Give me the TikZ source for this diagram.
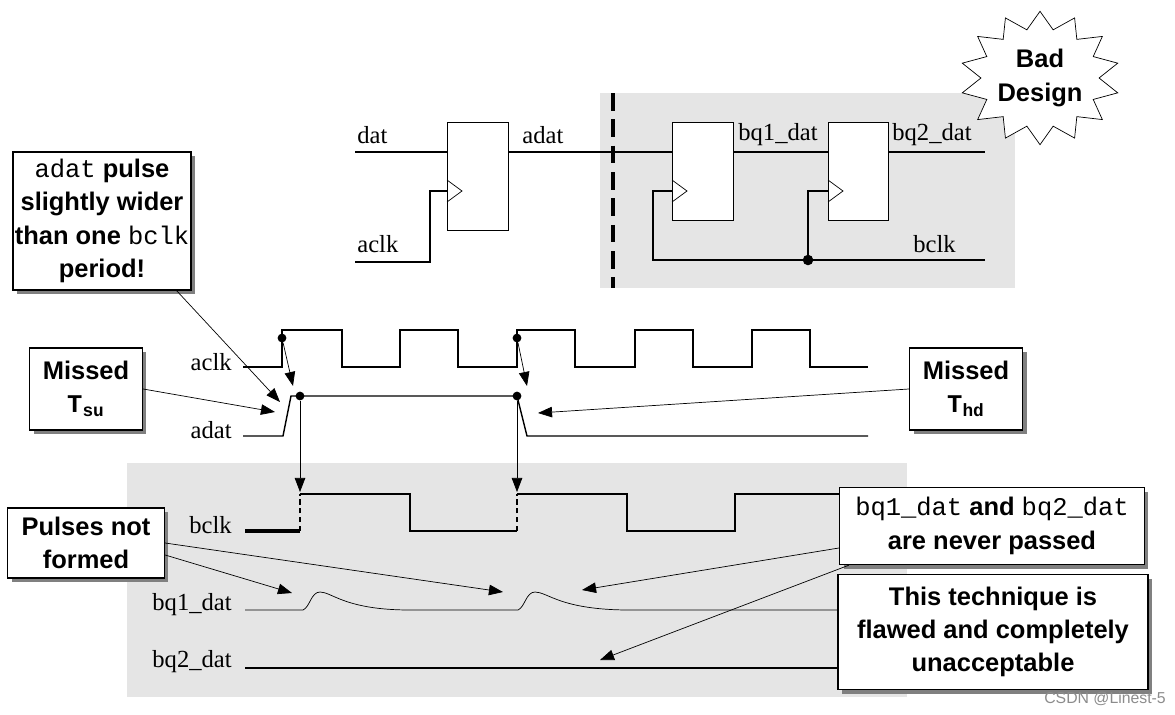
\documentclass[tikz,border=0pt]{standalone}
\usepackage{fontspec}
\setmainfont{Liberation Serif}
\setmonofont{Liberation Mono}
\newfontfamily\hv{Liberation Sans}
\usetikzlibrary{shapes.geometric, shadows, arrows.meta}
\tikzset{
	callout/.style={
		draw,
		thick,
		fill=white,
		drop shadow={opacity=1, shadow xshift=0.08cm, shadow yshift=-0.08cm},
		font=\hv\bfseries\fontsize{14.5}{19}\selectfont,
		align=center,
		inner sep=1pt
	},
	sig/.style={font=\fontsize{14}{16}\selectfont, inner sep=0pt},
	ff/.style={draw, fill=white, thin},
	wave/.style={thick, line join=miter},
	dot/.style={circle, fill, inner sep=0pt, minimum size=5pt},
	pointer/.style={-{Triangle[length=8pt, width=6pt]}, thin}
}
\begin{document}
\begin{tikzpicture}[x=0.02cm, y=-0.02cm]
	\useasboundingbox (0,0) rectangle (1175,714);
	% shaded regions
	\fill[black!10] (600,93) rectangle (1015,288);
	\fill[black!10] (127,463) rectangle (907,697);
	\draw[line width=2pt, dash pattern=on 10pt off 5pt] (613,93) -- (613,288);

	% bad design star
	\node[star, star points=14, star point ratio=1.35, draw, fill=white, thin,
		inner sep=0pt, minimum size=2.9cm, xscale=1.1, yscale=0.92]
		(bad) at (1040,78) {};
	\node[font=\hv\bfseries\fontsize{14.5}{19}\selectfont, align=center] (badtext) at (bad.center) {Bad\\Design};

	% schematic
	\draw[ff] (447,122) rectangle (508,230);
	\draw[ff] (672,122) rectangle (733,220);
	\draw[ff] (828,122) rectangle (888,220);
	\foreach \fx in {447,672,828} {
		\draw (\fx,180) -- (\fx+15,191) -- (\fx,202);
	}
	\draw[thick] (355,152) -- (447,152);
	\draw[thick] (508,152) -- (672,152);
	\draw[thick] (733,152) -- (828,152);
	\draw[thick] (888,152) -- (985,152);
	\draw[thick] (355,262) -- (430,262) -- (430,191) -- (447,191);
	\draw[thick] (985,260) -- (653,260) -- (653,191) -- (672,191);
	\draw[thick] (808,260) -- (808,191) -- (828,191);
	\node[dot, minimum size=6pt] (junc) at (808,260) {};
	\node[sig, anchor=west] (ldat) at (357,135) {dat};
	\node[sig, anchor=west] (ladat) at (522,135) {adat};
	\node[sig, anchor=west] (laclk) at (357,244) {aclk};
	\node[sig, anchor=west] (lbq1) at (738,135) {bq1\_dat};
	\node[sig, anchor=west] (lbq2) at (892,135) {bq2\_dat};
	\node[sig, anchor=west] (lbclk) at (913,244) {bclk};

	% timing labels
	\node[sig, anchor=east] (taclk) at (232,362) {aclk};
	\node[sig, anchor=east] (tadat) at (232,430) {adat};
	\node[sig, anchor=east] (tbclk) at (232,525) {bclk};
	\node[sig, anchor=east] (tbq1) at (232,605) {bq1\_dat};
	\node[sig, anchor=east] (tbq2) at (232,662) {bq2\_dat};

	% aclk
	\draw[wave] (243,367) -- (282,367) -- (282,330) -- (342,330) -- (342,367)
		-- (400,367) -- (400,330) -- (458,330) -- (458,367)
		-- (517,367) -- (517,330) -- (575,330) -- (575,367)
		-- (635,367) -- (635,330) -- (693,330) -- (693,367)
		-- (752,367) -- (752,330) -- (810,330) -- (810,367) -- (868,367);
	% adat
	\draw[wave] (243,436) -- (283,436) -- (291,396) -- (517,396) -- (527,436) -- (868,436);
	% bclk
	\draw[line width=2.5pt] (245,531) -- (300,531);
	\draw[thick, dash pattern=on 3pt off 2pt] (300,531) -- (300,494);
	\draw[thick, dash pattern=on 3pt off 2pt] (517,531) -- (517,494);
	\draw[wave] (300,494) -- (410,494) -- (410,531) -- (517,531);
	\draw[wave] (517,494) -- (627,494) -- (627,531) -- (735,531) -- (735,494) -- (840,494);
	% bq1_dat
	\draw[thin] (245,610) -- (303,610) .. controls (310,607) and (311,592) .. (320,592)
		.. controls (332,592) and (345,610) .. (410,610) -- (518,610)
		.. controls (525,607) and (526,592) .. (535,592)
		.. controls (548,592) and (560,610) .. (630,610) -- (840,610);
	% bq2_dat
	\draw[line width=1.2pt] (245,668) -- (840,668);

	% edge markers
	\node[dot] (ea1) at (282,338) {};
	\node[dot] (ea2) at (517,338) {};
	\node[dot] (ed1) at (300,396) {};
	\node[dot] (ed2) at (517,396) {};
	\coordinate (ta1) at (293,386);
	\coordinate (ta2) at (527,386);
	\coordinate (tb1) at (300,492);
	\coordinate (tb2) at (517,492);
	\draw[pointer] (ea1) -- (ta1);
	\draw[pointer] (ea2) -- (ta2);
	\draw[pointer] (ed1) -- (tb1);
	\draw[pointer] (ed2) -- (tb2);

	% callouts
	\node[callout, minimum width=3.5cm, minimum height=2.76cm] (wider) at (102,221)
		{{\mdseries\ttfamily adat} pulse\\slightly wider\\than one {\mdseries\ttfamily bclk}\\period!};
	\node[callout, minimum width=2.26cm, minimum height=1.64cm] (tsu) at (86,389)
		{Missed\\{\ttfamily T\textsubscript{su}}};
	\node[callout, minimum width=2.26cm, minimum height=1.64cm] (thd) at (966,389)
		{Missed\\{\ttfamily T\textsubscript{hd}}};
	\node[callout, minimum width=3.14cm, minimum height=1.4cm] (pulses) at (86,543)
		{Pulses not\\formed};
	\node[callout, minimum width=6.1cm, minimum height=1.54cm] (never) at (992,526)
		{{\mdseries\ttfamily bq1\_dat} and {\mdseries\ttfamily bq2\_dat}\\are never passed};
	\node[callout, minimum width=6.2cm, minimum height=2.3cm] (flawed) at (993,632)
		{This technique is\\flawed and completely\\unacceptable};

	% callout pointers
	\coordinate (pw) at (280,402);
	\coordinate (psu) at (275,412);
	\coordinate (phd) at (538,413);
	\coordinate (pp1) at (292,593);
	\coordinate (pp2) at (503,592);
	\coordinate (pn1) at (582,590);
	\coordinate (pn2) at (600,660);
	\draw[pointer] (wider.south east) ++(-15,0) -- (pw);
	\draw[pointer] (tsu.east) -- (psu);
	\draw[pointer] (thd.west) -- (phd);
	\draw[pointer] (pulses.east) ++(0,12) -- (pp1);
	\draw[pointer] (pulses.east) -- (pp2);
	\draw[pointer] (never.west) ++(0,22) -- (pn1);
	\draw[pointer] (never.south west) ++(10,0) -- (pn2);

	\node[font=\hv\fontsize{9}{10}\selectfont, text=black!45, anchor=south east] (mark) at (1172,712) {CSDN @Linest-5};
\end{tikzpicture}
\end{document}
